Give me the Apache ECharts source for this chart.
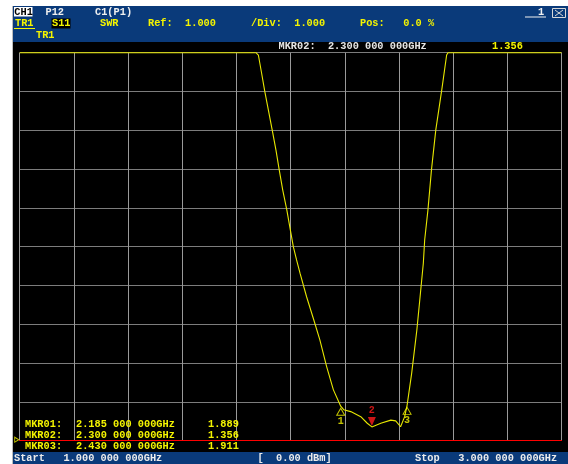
<!DOCTYPE html>
<html><head><meta charset="utf-8">
<script src="https://cdn.jsdelivr.net/npm/echarts@6/dist/echarts.min.js"></script>
<style>html,body{margin:0;padding:0;background:#fff;}#c{width:568px;height:464px;}</style>
</head><body><div id="c"></div>
<script>
// ---- data ----
const startFreq = 1.0;      // GHz
const stopFreq = 3.0;       // GHz
const freqPerDiv = 0.2;
const refValue = 1.0;       // SWR at bottom (Pos 0 %)
const perDiv = 1.0;
const topValue = 11.0;

const traceFreq = [1.000, 1.872, 1.881, 1.893, 1.905, 1.918, 1.932, 1.946, 1.958, 1.971, 1.986, 1.998,
  2.010, 2.022, 2.035, 2.059, 2.084, 2.108, 2.133, 2.158, 2.185, 2.196, 2.222, 2.259, 2.283, 2.300,
  2.333, 2.370, 2.388, 2.406, 2.421, 2.430, 2.447, 2.466, 2.478, 2.490, 2.495, 2.507, 2.520, 2.536,
  2.558, 2.576, 2.581, 3.000];
const traceSwr = [11, 11, 10.94, 10.47, 9.99, 9.52, 9.01, 8.49, 7.98, 7.46, 6.95, 6.47,
  6.00, 5.66, 5.31, 4.71, 4.15, 3.60, 2.91, 2.31, 1.889, 1.80, 1.75, 1.62, 1.45, 1.356,
  1.45, 1.53, 1.51, 1.36, 1.62, 1.911, 2.74, 3.85, 4.71, 5.58, 6.18, 6.95, 7.98, 9.01,
  10.04, 10.94, 11, 11];

const markerNames = ['1', '2', '3'];
const markerFreq = [2.185, 2.300, 2.430];
const markerSwr = [1.889, 1.356, 1.911];
const markerFreqText = ['2.185 000 000GHz', '2.300 000 000GHz', '2.430 000 000GHz'];
const markerSwrText = ['1.889', '1.356', '1.911'];
const activeMarker = 1;

const headerRow1 = ['CH1', 'P12', 'C1(P1)'];
const headerRow2 = ['TR1', 'S11', 'SWR', 'Ref:  1.000', '/Div:  1.000', 'Pos:   0.0 %'];
const headerRow3 = ['TR1'];
const startText = 'Start   1.000 000 000GHz';
const powerText = '[  0.00 dBm]';
const stopText = 'Stop   3.000 000 000GHz';

// ---- chart ----
const FONT = 'Liberation Mono';
const FS = 10.3;
const YEL = '#f4f400';
const BLUE = '#0a3a7a';
function txt(text, x, y, fill, extra) {
  return Object.assign({ type: 'text', z: 10, style: { text: text, x: x, y: y, fill: fill,
    fontFamily: FONT, fontSize: FS, fontWeight: 'bold', verticalAlign: 'middle', align: 'left' } }, extra || {});
}

const chart = echarts.init(document.getElementById('c'));

const traceData = traceFreq.map((f, i) => [f, traceSwr[i]]);
const markerData = markerFreq.map((f, i) => {
  const active = i === activeMarker;
  return {
    value: [f, markerSwr[i]],
    symbol: 'triangle',
    symbolRotate: active ? 180 : 0,
    symbolSize: active ? [8, 9] : [8, 7],
    symbolOffset: active ? [0, -5.5] : [0, 5.5],
    itemStyle: active ? { color: '#ff1a1a', borderWidth: 0 }
      : { color: 'rgba(0,0,0,0)', borderColor: YEL, borderWidth: 1 },
    label: {
      show: true, formatter: markerNames[i], position: active ? 'top' : 'bottom', distance: 1,
      color: active ? '#ff1a1a' : YEL, fontFamily: FONT, fontSize: 10, fontWeight: 'bold'
    }
  };
});
markerData.push({
  value: [startFreq, refValue], symbol: 'triangle', symbolRotate: -90, symbolSize: [5, 4],
  symbolOffset: [-3, -1], itemStyle: { color: 'rgba(0,0,0,0)', borderColor: YEL, borderWidth: 1 },
  label: { show: false }
});

const graphics = [
  { type: 'rect', z: -5, shape: { x: 0, y: 0, width: 568, height: 6 }, style: { fill: '#fff' } },
  { type: 'rect', z: -5, shape: { x: 0, y: 0, width: 12, height: 464 }, style: { fill: '#fff' } },
  { type: 'rect', z: -5, shape: { x: 12, y: 6, width: 1, height: 458 }, style: { fill: '#bdbdbd' } },
  { type: 'rect', z: -5, shape: { x: 13, y: 6, width: 555, height: 36 }, style: { fill: BLUE } },
  { type: 'rect', z: -5, shape: { x: 13, y: 452, width: 555, height: 12 }, style: { fill: BLUE } },
  // row 1
  { type: 'rect', z: 5, shape: { x: 14, y: 7, width: 18.5, height: 9.5 }, style: { fill: '#fff' } },
  txt(headerRow1[0], 14.3, 12, '#000'),
  txt(headerRow1[1], 45.5, 12, '#f0f0f0'),
  txt(headerRow1[2], 95, 12, '#f0f0f0'),
  // row 2
  txt(headerRow2[0], 15, 23.5, YEL),
  { type: 'rect', z: 5, shape: { x: 14, y: 28, width: 21, height: 1 }, style: { fill: YEL } },
  { type: 'rect', z: 5, shape: { x: 51.5, y: 18.5, width: 19, height: 10 }, style: { fill: '#000' } },
  txt(headerRow2[1], 52, 23.5, YEL),
  txt(headerRow2[2], 100, 23.5, YEL),
  txt(headerRow2[3], 148, 23.5, YEL),
  txt(headerRow2[4], 251, 23.5, YEL),
  txt(headerRow2[5], 360, 23.5, YEL),
  // row 3
  txt(headerRow3[0], 36, 35.5, YEL),
  // top right controls
  { type: 'rect', z: 5, shape: { x: 525, y: 16.5, width: 21, height: 1 }, style: { fill: '#f0f0f0' } },
  txt('1', 538, 12, '#f0f0f0'),
  { type: 'rect', z: 5, shape: { x: 552.5, y: 8.5, width: 13, height: 9 }, style: { fill: 'none', stroke: '#d8d8d8', lineWidth: 1 } },
  { type: 'polyline', z: 5, shape: { points: [[555, 10], [563, 16]] }, style: { stroke: '#d8d8d8', lineWidth: 1 } },
  { type: 'polyline', z: 5, shape: { points: [[563, 10], [555, 16]] }, style: { stroke: '#d8d8d8', lineWidth: 1 } },
  // active marker readout above grid
  txt('MKR0' + markerNames[activeMarker] + ':  ' + markerFreqText[activeMarker], 278.5, 46.8, '#e6e6e6'),
  txt(markerSwrText[activeMarker], 492, 46.8, YEL),
  // bottom bar
  txt(startText, 14, 458.3, '#ececec'),
  txt(powerText, 257.5, 458.3, '#ececec'),
  txt(stopText, 415, 458.3, '#ececec')
];
const rowY = [424.5, 435.3, 446];
markerNames.forEach((n, i) => {
  graphics.push(txt('MKR0' + n + ':', 25, rowY[i], YEL));
  graphics.push(txt(markerFreqText[i], 76, rowY[i], YEL));
  graphics.push(txt(markerSwrText[i], 208, rowY[i], YEL));
});

chart.setOption({
  backgroundColor: '#000',
  animation: false,
  grid: { left: 19.7, right: 6.5, top: 52.7, bottom: 23.3, containLabel: false },
  xAxis: {
    type: 'value', min: startFreq, max: stopFreq, interval: freqPerDiv,
    axisLabel: { show: false }, axisTick: { show: false },
    axisLine: { show: true, onZero: false, lineStyle: { color: '#ff0000', width: 1.2 } },
    splitLine: { show: true, lineStyle: { color: '#9a9a9a', width: 1 } }
  },
  yAxis: {
    type: 'value', min: refValue, max: topValue, interval: perDiv,
    axisLabel: { show: false }, axisTick: { show: false }, axisLine: { show: false },
    splitLine: { show: true, lineStyle: { color: '#7c7c7c', width: 1.2 } }
  },
  graphic: graphics,
  series: [
    {
      type: 'line', data: traceData, showSymbol: false, clip: false, z: 3,
      lineStyle: { color: '#e8e800', width: 1.1 }
    },
    {
      type: 'scatter', data: markerData, clip: false, z: 4
    }
  ]
});
</script></body></html>
